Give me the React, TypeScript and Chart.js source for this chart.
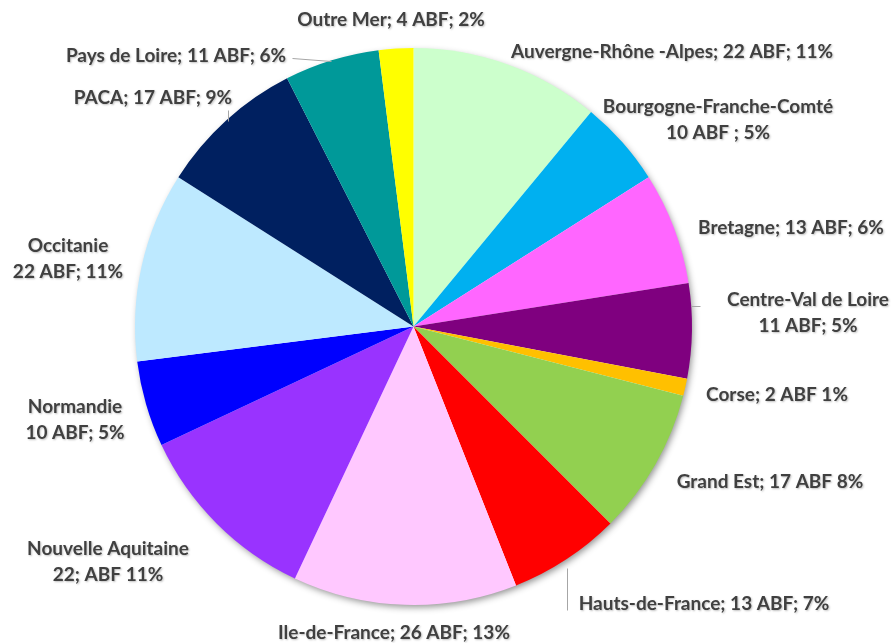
import React, { useEffect, useRef } from "react";
import { Chart, registerables } from "chart.js";

Chart.register(...registerables);

const regions = [
  "Auvergne-Rhône -Alpes",
  "Bourgogne-Franche-Comté",
  "Bretagne",
  "Centre-Val de Loire",
  "Corse",
  "Grand Est",
  "Hauts-de-France",
  "Ile-de-France",
  "Nouvelle Aquitaine",
  "Normandie",
  "Occitanie",
  "PACA",
  "Pays de Loire",
  "Outre Mer",
];

const abfCounts = [22, 10, 13, 11, 2, 17, 13, 26, 22, 10, 22, 17, 11, 4];

const labelTexts: string[][] = [
  ["Auvergne-Rhône -Alpes; 22 ABF; 11%"],
  ["Bourgogne-Franche-Comté", "10 ABF ; 5%"],
  ["Bretagne; 13 ABF; 6%"],
  ["Centre-Val de Loire", "11 ABF; 5%"],
  ["Corse; 2 ABF 1%"],
  ["Grand Est; 17 ABF 8%"],
  ["Hauts-de-France; 13 ABF; 7%"],
  ["Ile-de-France; 26 ABF; 13%"],
  ["Nouvelle Aquitaine", "22; ABF 11%"],
  ["Normandie", "10 ABF; 5%"],
  ["Occitanie", "22 ABF; 11%"],
  ["PACA; 17 ABF; 9%"],
  ["Pays de Loire; 11 ABF; 6%"],
  ["Outre Mer; 4 ABF; 2%"],
];

const sliceColors = [
  "#CCFFCC",
  "#00B0F0",
  "#FF66FF",
  "#7F007F",
  "#FFC000",
  "#92D050",
  "#FF0000",
  "#FFC8FF",
  "#9933FF",
  "#0000FF",
  "#BDE9FF",
  "#002060",
  "#009999",
  "#FFFF00",
];

// label layout (canvas px): center x, first-line middle y
const labelLayout = [
  { x: 672, y: 52 },
  { x: 718, y: 107 },
  { x: 791, y: 228 },
  { x: 808, y: 300 },
  { x: 777, y: 395 },
  { x: 770, y: 482 },
  { x: 704, y: 604 },
  { x: 394, y: 633 },
  { x: 108, y: 549 },
  { x: 75, y: 407 },
  { x: 68, y: 246 },
  { x: 153, y: 98 },
  { x: 176, y: 56 },
  { x: 391, y: 20 },
];

// leader lines (canvas px) : [x1, y1, x2, y2]
const leaderLines = [
  [292, 58, 331, 61],
  [228, 110, 228, 121],
  [691, 306, 700, 306],
  [567, 568, 567, 610],
];

const LINE_H = 26;
const FONT = "bold 19px Lato";

const shadowPlugin = {
  id: "pieShadow",
  beforeDatasetsDraw(chart: any) {
    const meta = chart.getDatasetMeta(0);
    const arc = meta.data[0];
    if (!arc) return;
    const { x, y, outerRadius } = arc.getProps(["x", "y", "outerRadius"], true);
    const ctx = chart.ctx;
    ctx.save();
    ctx.shadowColor = "rgba(0,0,0,0.45)";
    ctx.shadowBlur = 7;
    ctx.shadowOffsetX = 2;
    ctx.shadowOffsetY = 3;
    ctx.beginPath();
    ctx.arc(x, y, outerRadius - 1, 0, Math.PI * 2);
    ctx.fillStyle = "#ffffff";
    ctx.fill();
    ctx.restore();
  },
};

const labelPlugin = {
  id: "outLabels",
  afterDatasetsDraw(chart: any) {
    const ctx = chart.ctx;
    ctx.save();
    ctx.strokeStyle = "#A6A6A6";
    ctx.lineWidth = 1;
    leaderLines.forEach(([x1, y1, x2, y2]) => {
      ctx.beginPath();
      ctx.moveTo(x1 + 0.5, y1 + 0.5);
      ctx.lineTo(x2 + 0.5, y2 + 0.5);
      ctx.stroke();
    });
    ctx.font = FONT;
    ctx.textAlign = "center";
    ctx.textBaseline = "middle";
    ctx.fillStyle = "#404040";
    ctx.shadowColor = "rgba(0,0,0,0.25)";
    ctx.shadowBlur = 2;
    ctx.shadowOffsetX = 1;
    ctx.shadowOffsetY = 1;
    labelTexts.forEach((lines, i) => {
      const p = labelLayout[i];
      lines.forEach((t, j) => {
        ctx.fillText(t, p.x, p.y + j * LINE_H);
      });
    });
    ctx.restore();
  },
};

export default function App() {
  const ref = useRef<HTMLCanvasElement>(null);
  useEffect(() => {
    if (!ref.current) return;
    const chart = new Chart(ref.current, {
      type: "pie",
      data: {
        labels: regions,
        datasets: [
          {
            data: abfCounts,
            backgroundColor: sliceColors,
            borderWidth: 0,
          },
        ],
      },
      options: {
        responsive: false,
        animation: false,
        layout: { padding: { top: 48, bottom: 38, left: 135, right: 202 } },
        plugins: {
          legend: { display: false },
          tooltip: { enabled: false },
        },
      },
      plugins: [shadowPlugin, labelPlugin],
    });
    return () => chart.destroy();
  }, []);
  return (
    <div style={{ position: "fixed", left: 0, top: 0, width: 894, height: 643, background: "#fff" }}>
      <canvas ref={ref} width={894} height={643} style={{ width: 894, height: 643, display: "block" }} />
    </div>
  );
}
